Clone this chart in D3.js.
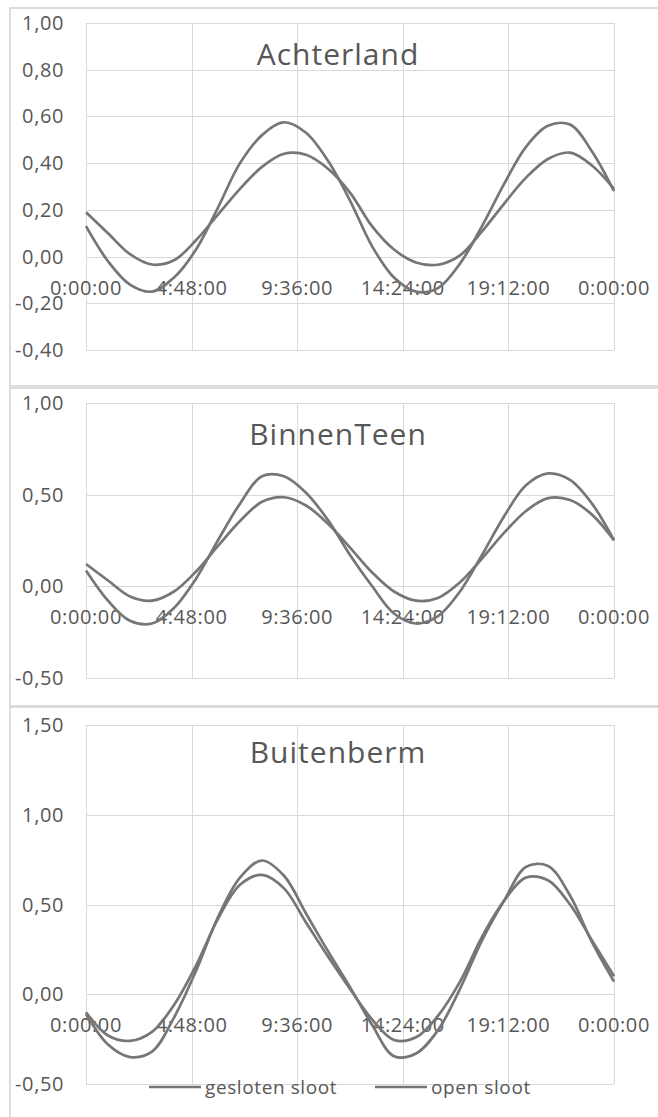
<!DOCTYPE html>

<head>
    <title>Achterland / BinnenTeen / Buitenberm</title>
    <meta charset="utf-8" />
</head>

<style>
    body {
        margin: 0;
        background: #ffffff;
    }

    text {
        font-family: "Open Sans", sans-serif;
        fill: #575757;
        letter-spacing: 0.6px;
    }

    .grid line {
        stroke: #d9d9d9;
        stroke-width: 1px;
        shape-rendering: crispEdges;
    }

    .frame {
        fill: none;
        stroke: #d2d2d2;
        stroke-width: 1.5px;
    }

    .serie {
        fill: none;
        stroke: #767676;
        stroke-width: 2.7px;
    }
</style>

<body>
    <svg id="chart" width="658" height="1117"></svg>

    <script src="https://d3js.org/d3.v7.min.js"></script>

    <script>
        // data (hourly)
        var hours = [0, 1, 2, 3, 4, 5, 6, 7, 8, 9, 10, 11, 12, 13, 14, 15, 16, 17, 18, 19, 20, 21, 22, 23, 24];

        var xTicks = [0, 4.8, 9.6, 14.4, 19.2, 24];
        var xLabels = ["0:00:00", "4:48:00", "9:36:00", "14:24:00", "19:12:00", "0:00:00"];

        var legendNames = ["gesloten sloot", "open sloot"];

        var achterlandTicks = [-0.4, -0.2, 0, 0.2, 0.4, 0.6, 0.8, 1.0];
        var achterlandGesloten = [0.13, -0.02, -0.12, -0.15, -0.09, 0.03, 0.21, 0.40, 0.52, 0.575, 0.53, 0.41, 0.24, 0.045, -0.09, -0.15, -0.135, -0.03, 0.13, 0.31, 0.47, 0.56, 0.565, 0.45, 0.28];
        var achterlandOpen = [0.19, 0.10, 0.01, -0.034, -0.016, 0.07, 0.18, 0.29, 0.384, 0.44, 0.436, 0.376, 0.274, 0.13, 0.03, -0.025, -0.035, 0.005, 0.108, 0.226, 0.338, 0.418, 0.445, 0.39, 0.29];

        var binnenTicks = [-0.5, 0, 0.5, 1.0];
        var binnenGesloten = [0.085, -0.08, -0.19, -0.205, -0.12, 0.04, 0.25, 0.45, 0.60, 0.60, 0.51, 0.36, 0.17, 0.0, -0.15, -0.205, -0.165, -0.03, 0.17, 0.38, 0.55, 0.615, 0.58, 0.45, 0.25];
        var binnenOpen = [0.12, 0.03, -0.057, -0.08, -0.03, 0.079, 0.219, 0.355, 0.46, 0.485, 0.44, 0.34, 0.21, 0.075, -0.03, -0.08, -0.065, 0.02, 0.15, 0.29, 0.41, 0.48, 0.47, 0.39, 0.25];

        var buitenTicks = [-0.5, 0, 0.5, 1.0, 1.5];
        var buitenGesloten = [-0.11, -0.28, -0.35, -0.32, -0.13, 0.13, 0.43, 0.65, 0.745, 0.66, 0.45, 0.24, 0.04, -0.17, -0.345, -0.33, -0.20, 0.03, 0.30, 0.52, 0.71, 0.715, 0.55, 0.29, 0.07];
        var buitenOpen = [-0.10, -0.23, -0.26, -0.21, -0.06, 0.16, 0.42, 0.61, 0.665, 0.59, 0.40, 0.21, 0.03, -0.14, -0.255, -0.24, -0.12, 0.07, 0.32, 0.52, 0.65, 0.635, 0.50, 0.30, 0.10];

        // layout of the three stacked charts
        var panels = [{
            title: "Achterland",
            ticks: achterlandTicks,
            series: [achterlandGesloten, achterlandOpen],
            box: [8, 386],
            plot: [23, 350],
            titleY: 65
        }, {
            title: "BinnenTeen",
            ticks: binnenTicks,
            series: [binnenGesloten, binnenOpen],
            box: [388, 706],
            plot: [403, 677.5],
            titleY: 445
        }, {
            title: "Buitenberm",
            ticks: buitenTicks,
            series: [buitenGesloten, buitenOpen],
            box: [707, 1130],
            plot: [725, 1084],
            titleY: 763,
            legend: true
        }];

        var svg = d3.select("#chart");

        var nl = d3.formatLocale({
            decimal: ",",
            thousands: ".",
            grouping: [3],
            currency: ["", " €"],
            minus: "-"
        });
        var fmt = nl.format(".2f");

        var x = d3.scaleLinear().domain([0, 24]).range([86, 614]);

        panels.forEach(function(p) {
            var y = d3.scaleLinear()
                .domain([p.ticks[0], p.ticks[p.ticks.length - 1]])
                .range([p.plot[1], p.plot[0]]);

            var g = svg.append("g");

            g.append("rect")
                .attr("class", "frame")
                .attr("x", 10)
                .attr("y", p.box[0])
                .attr("width", 700)
                .attr("height", p.box[1] - p.box[0]);

            // gridlines
            var grid = g.append("g").attr("class", "grid");
            grid.selectAll(".h")
                .data(p.ticks)
                .enter().append("line")
                .attr("x1", x(0))
                .attr("x2", x(24))
                .attr("y1", function(d) { return Math.round(y(d)) + 0.5; })
                .attr("y2", function(d) { return Math.round(y(d)) + 0.5; });
            grid.selectAll(".v")
                .data(xTicks)
                .enter().append("line")
                .attr("x1", function(d) { return Math.round(x(d)) + 0.5; })
                .attr("x2", function(d) { return Math.round(x(d)) + 0.5; })
                .attr("y1", p.plot[0])
                .attr("y2", p.plot[1]);

            // y labels
            g.selectAll(".ylab")
                .data(p.ticks)
                .enter().append("text")
                .attr("x", 64)
                .attr("y", function(d) { return y(d); })
                .attr("dy", "0.35em")
                .attr("text-anchor", "end")
                .attr("font-size", "20px")
                .text(function(d) { return fmt(d); });

            // title
            g.append("text")
                .attr("x", 338)
                .attr("y", p.titleY)
                .attr("text-anchor", "middle")
                .attr("font-size", "30px")
                .style("letter-spacing", "1px")
                .text(p.title);

            // x labels sit under the zero line
            g.selectAll(".xlab")
                .data(xTicks)
                .enter().append("text")
                .attr("x", function(d) { return x(d); })
                .attr("y", y(0) + 31)
                .attr("dy", "0.35em")
                .attr("text-anchor", "middle")
                .attr("font-size", "20px")
                .text(function(d, i) { return xLabels[i]; });

            var line = d3.line()
                .x(function(d, i) { return x(hours[i]); })
                .y(function(d) { return y(d); })
                .curve(d3.curveCatmullRom.alpha(0.5));

            g.selectAll(".serie")
                .data(p.series)
                .enter().append("path")
                .attr("class", "serie")
                .attr("d", line);

            if (p.legend) {
                var legendX = [149, 375];
                var ly = 1087;
                var lg = g.selectAll(".legend")
                    .data(legendNames)
                    .enter().append("g")
                    .attr("transform", function(d, i) {
                        return "translate(" + legendX[i] + "," + ly + ")";
                    });
                lg.append("line")
                    .attr("class", "serie")
                    .attr("x1", 0)
                    .attr("x2", 52)
                    .attr("y1", 0)
                    .attr("y2", 0);
                lg.append("text")
                    .attr("x", 56)
                    .attr("dy", "0.35em")
                    .attr("font-size", "19px")
                    .text(function(d) { return d; });
            }
        });
    </script>
</body>
